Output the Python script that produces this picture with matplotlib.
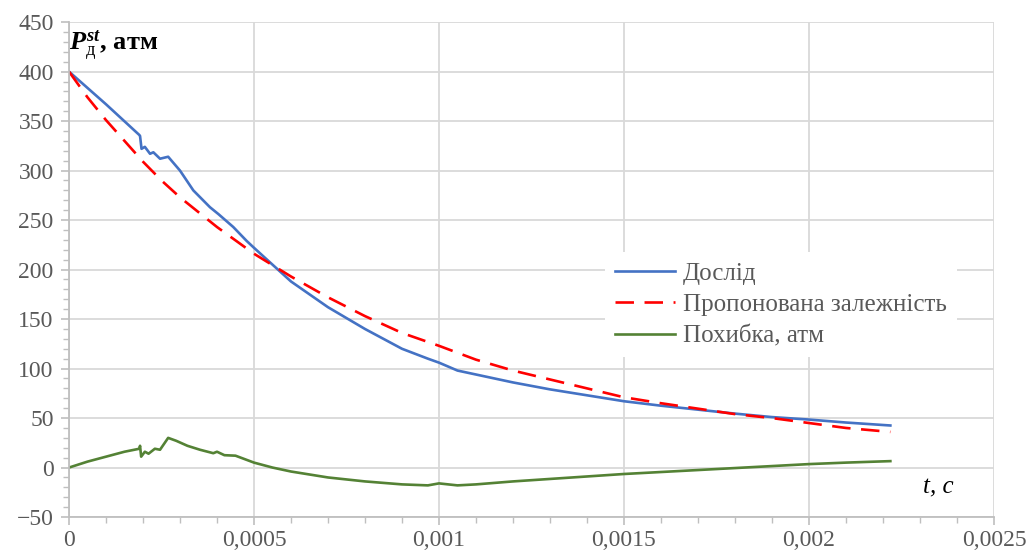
import matplotlib
matplotlib.use('Agg')
import matplotlib.pyplot as plt
from matplotlib.ticker import MultipleLocator, FuncFormatter

# ---- data ----
t_exp = [0, 0.0001, 0.00019, 0.000192, 0.000196, 0.000205, 0.000219, 0.000228, 0.000246,
         0.000268, 0.0003, 0.000336, 0.000381, 0.000404, 0.000444, 0.00048, 0.0005,
         0.0006, 0.0007, 0.0008, 0.0009, 0.00097, 0.001, 0.00105, 0.0011, 0.0012,
         0.0013, 0.0014, 0.0015, 0.0016, 0.0017, 0.0018, 0.0019, 0.002, 0.0021, 0.00222]
p_exp = [400, 367, 336, 335, 322, 324, 317, 318.5, 312,
         314, 300, 280, 263, 256, 243, 229, 222,
         188, 162, 140, 120, 110, 106, 98, 94, 86,
         79, 73, 67, 62.5, 58.5, 54.5, 51, 48.5, 45.5, 42.5]

t_fit = [0, 0.00005, 0.0001, 0.00015, 0.0002, 0.00025, 0.0003, 0.0004, 0.0005,
         0.0006, 0.0007, 0.0008, 0.0009, 0.001, 0.0011, 0.0012, 0.0013, 0.0014,
         0.0015, 0.0016, 0.0017, 0.0018, 0.0019, 0.002, 0.0021, 0.00222]
p_fit = [400, 374, 351, 330, 309, 290, 273, 243, 216,
         193, 172, 153, 136, 123, 109, 98, 89, 80,
         71, 65, 59.5, 54, 50, 45, 40, 36]

t_err = [0, 0.00005, 0.0001, 0.00015, 0.00019, 0.000192, 0.000195, 0.000205, 0.000215,
         0.000232, 0.000246, 0.000268, 0.00029, 0.00032, 0.000354, 0.00039, 0.0004,
         0.00042, 0.00045, 0.0005, 0.00055, 0.0006, 0.0007, 0.0008, 0.0009, 0.00097,
         0.001, 0.00105, 0.0011, 0.0012, 0.0013, 0.0014, 0.0015, 0.0016, 0.0017,
         0.0018, 0.0019, 0.002, 0.0021, 0.00222]
e_err = [0, 6, 11, 16, 19, 22, 11, 16, 14,
         19, 18, 30, 27, 22, 18, 14.5, 16,
         12.5, 12, 5, 0, -4, -10, -14, -17, -18,
         -16, -18, -17, -14, -11.5, -9, -6.5, -4.5, -2.5,
         -0.5, 1.5, 3.5, 5, 6.5]

labels = ['Дослід', 'Пропонована залежність', 'Похибка, атм']

plt.rcParams['font.family'] = ['Liberation Serif', 'DejaVu Serif']
plt.rcParams['mathtext.fontset'] = 'custom'
plt.rcParams['mathtext.rm'] = 'Liberation Serif'
plt.rcParams['mathtext.it'] = 'Liberation Serif:italic:bold'
plt.rcParams['mathtext.bf'] = 'Liberation Serif:bold'

fig = plt.figure(figsize=(10.3, 5.53), dpi=100)
ax = fig.add_axes([0.067, 0.065, 0.898, 0.895])

ax.plot(t_exp, p_exp, color='#4472C4', lw=1.9, label=labels[0])
ax.plot(t_fit, p_fit, color='#FF0000', lw=1.9, dashes=(7, 4), label=labels[1])
ax.plot(t_err, e_err, color='#548235', lw=1.9, label=labels[2])

ax.set_xlim(0, 0.0025)
ax.set_ylim(-50, 450)
ax.xaxis.set_major_locator(MultipleLocator(0.0005))
ax.xaxis.set_minor_locator(MultipleLocator(0.0001))
ax.yaxis.set_major_locator(MultipleLocator(50))
ax.yaxis.set_minor_locator(MultipleLocator(10))
ax.xaxis.set_major_formatter(FuncFormatter(lambda v, p: ('%g' % round(v, 6)).replace('.', ',')))

ax.grid(True, which='major', color='#d9d9d9', lw=1.3)
for s in ['top', 'right']:
    ax.spines[s].set_visible(False)
for s in ['left', 'bottom']:
    ax.spines[s].set_color('#bfbfbf')
    ax.spines[s].set_linewidth(1.3)
ax.tick_params(which='major', length=6, color='#bfbfbf', width=1.2, labelsize=17,
               labelcolor='#595959')
ax.tick_params(which='minor', length=4, color='#bfbfbf', width=1.0)
ax.tick_params(axis='x', pad=3)
ax.tick_params(axis='y', pad=5)

ax.text(0.0000, 426, r'$P_{\mathrm{д}}^{st}$, атм', fontsize=19, fontweight='bold',
        va='center', ha='left', color='black')
ax.text(0.00235, -20, 't, c', fontsize=18, style='italic', ha='center', va='center')

leg = ax.legend(loc='upper left', bbox_to_anchor=(0.58, 0.535), frameon=True,
                fontsize=18, handlelength=2.4, labelcolor='#595959',
                borderaxespad=0, handletextpad=0.3, labelspacing=0.35)
leg.get_frame().set_facecolor('white')
leg.get_frame().set_edgecolor('none')
leg.get_frame().set_alpha(1)

fig.savefig('out.png', dpi=100)
